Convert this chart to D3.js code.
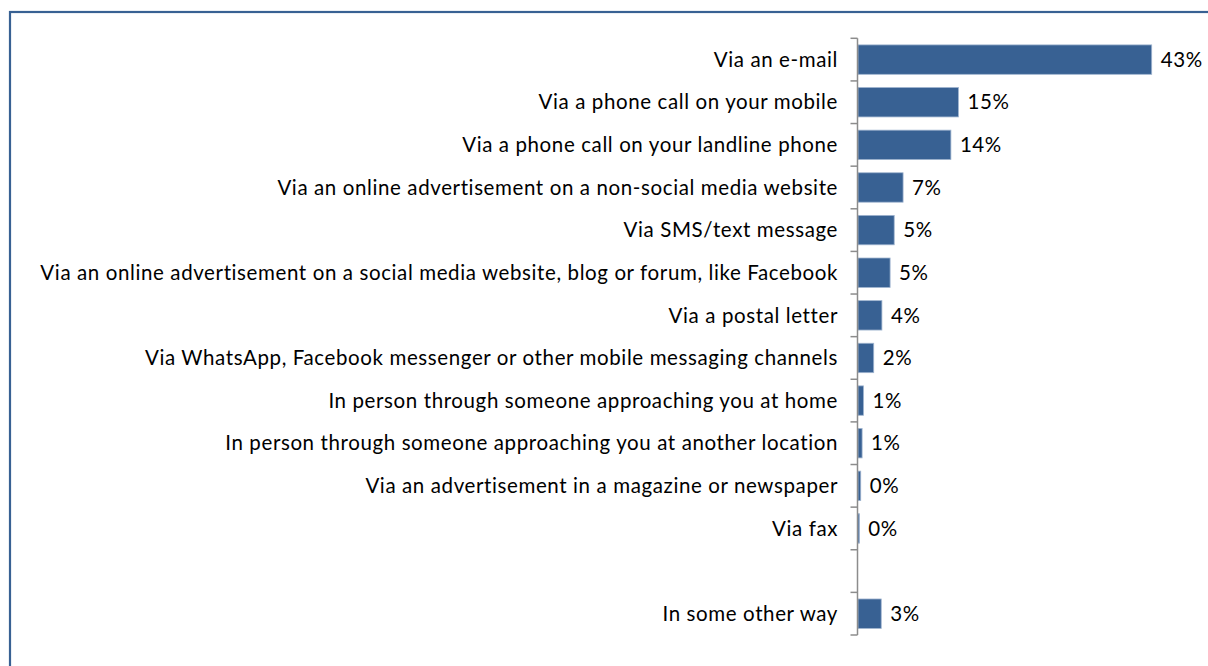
<!DOCTYPE html>
<html>
<head>
<meta charset="utf-8">
<script src="https://cdn.jsdelivr.net/npm/d3@7"></script>
<style>
  html, body { margin: 0; padding: 0; background: #fff; }
  svg { display: block; }
  text { font-family: Lato, "Open Sans", sans-serif; fill: #000; }
</style>
</head>
<body>
<svg id="chart" width="1208" height="666"></svg>
<script>
// Channels through which people were contacted (share of respondents, %)
const categories = [
  "Via an e-mail",
  "Via a phone call on your mobile",
  "Via a phone call on your landline phone",
  "Via an online advertisement on a non-social media website",
  "Via SMS/text message",
  "Via an online advertisement on a social media website, blog or forum, like Facebook",
  "Via a postal letter",
  "Via WhatsApp, Facebook messenger or other mobile messaging channels",
  "In person through someone approaching you at home",
  "In person through someone approaching you at another location",
  "Via an advertisement in a magazine or newspaper",
  "Via fax",
  "",
  "In some other way"
];
const values = [43.0, 14.7, 13.6, 6.6, 5.3, 4.7, 3.5, 2.3, 0.8, 0.6, 0.4, 0.2, null, 3.4];

const svg = d3.select("#chart");
const barColor = "#386193";
const axisColor = "#8c8c8c";
const fontSize = 20.5;

// outer frame
svg.append("rect")
  .attr("x", 10).attr("y", 12)
  .attr("width", 1210).attr("height", 670)
  .attr("fill", "none")
  .attr("stroke", "#386193")
  .attr("stroke-width", 2.2);

const rows = categories.map((c, i) => ({ key: i, label: c, value: values[i] }));

const x = d3.scaleLinear().domain([0, 50]).range([858, 1199.5]);
const y = d3.scaleBand()
  .domain(rows.map(d => d.key))
  .range([38.3, 635])
  .paddingInner(0.31)
  .paddingOuter(0.155);

const step = y.step();
const gap = (step - y.bandwidth()) / 2;

// bars
svg.append("g").selectAll("rect")
  .data(rows.filter(d => d.value != null))
  .join("rect")
  .attr("x", x(0))
  .attr("y", d => y(d.key))
  .attr("width", d => x(d.value) - x(0))
  .attr("height", y.bandwidth())
  .attr("fill", barColor)
  .attr("stroke", "#9fb4cf")
  .attr("stroke-width", 0.8);

// category axis: line plus tick marks at band boundaries
const bounds = rows.map(d => y(d.key) - gap).concat([y(rows[rows.length - 1].key) + y.bandwidth() + gap]);
const axis = svg.append("g");
axis.append("line")
  .attr("x1", x(0) - 0.5).attr("x2", x(0) - 0.5)
  .attr("y1", bounds[0]).attr("y2", bounds[bounds.length - 1])
  .attr("stroke", axisColor).attr("stroke-width", 1.5);
axis.selectAll("line.tick")
  .data(bounds)
  .join("line")
  .attr("class", "tick")
  .attr("x1", x(0) - 7.5).attr("x2", x(0) - 0.5)
  .attr("y1", d => d).attr("y2", d => d)
  .attr("stroke", axisColor).attr("stroke-width", 1.5);

// category labels; letter spacing opened up so the longest one spans the room left of the axis
const labels = svg.append("g").selectAll("text")
  .data(rows.filter(d => d.label))
  .join("text")
  .attr("x", x(0) - 20)
  .attr("y", d => y(d.key) + y.bandwidth() / 2)
  .attr("dy", "0.35em")
  .attr("text-anchor", "end")
  .style("font-size", fontSize + "px")
  .text(d => d.label);

let widest = 0, widestChars = 1;
labels.each(function (d) {
  const w = this.getComputedTextLength();
  if (w > widest) { widest = w; widestChars = d.label.length; }
});
const spacing = Math.max(0, (798 - widest) / widestChars);
labels.style("letter-spacing", spacing + "px");

// value labels
svg.append("g").selectAll("text")
  .data(rows.filter(d => d.value != null))
  .join("text")
  .attr("x", d => x(d.value) + 9)
  .attr("y", d => y(d.key) + y.bandwidth() / 2)
  .attr("dy", "0.35em")
  .style("font-size", fontSize + "px")
  .style("letter-spacing", spacing + "px")
  .text(d => Math.round(d.value) + "%");
</script>
</body>
</html>
